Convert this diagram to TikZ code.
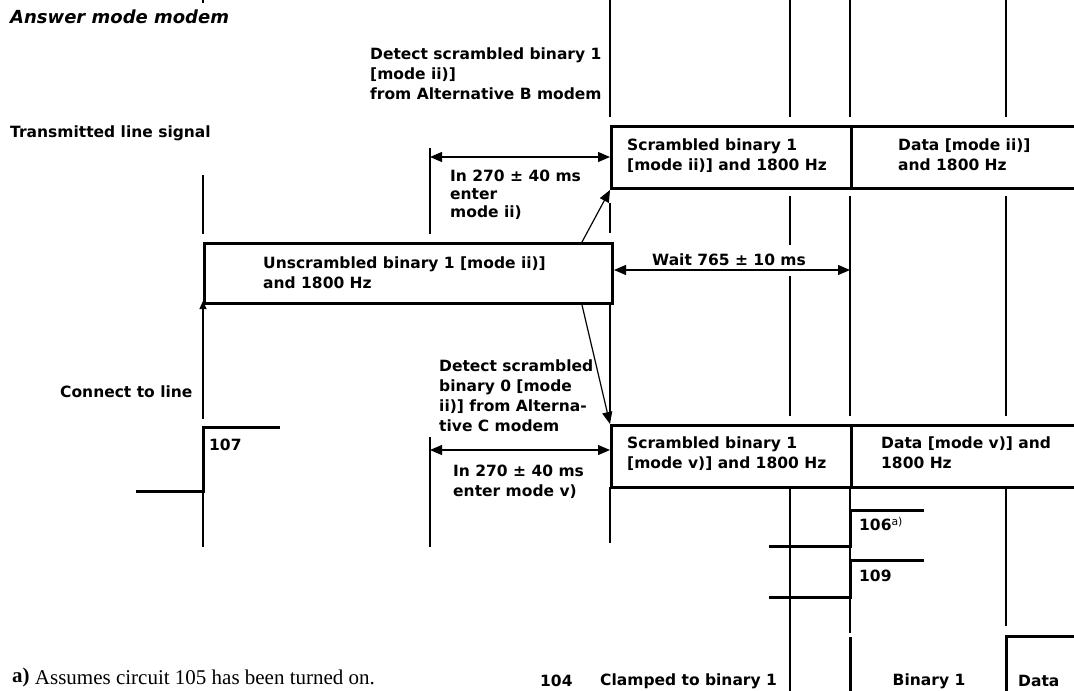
\documentclass[tikz,border=0pt]{standalone}
\usepackage{fontspec}
\setmainfont{DejaVu Sans}
\newfontfamily\notefamily{Liberation Serif}
\usetikzlibrary{arrows.meta}
\newcommand*{\boldsans}{\fontsize{15.5}{20}\selectfont\bfseries}
\newcommand*{\titlefont}{\fontsize{18}{21}\selectfont\bfseries\itshape}

\begin{document}
\begin{tikzpicture}
[
    x = 1pt, y = -1pt,
    >={Triangle[length=12pt, width=10pt]},
    every node/.style={inner sep=0pt, font=\boldsans},
    lbl/.style={anchor=north west, align=left},
    phase/.style={draw, line width=3pt, anchor=north west},
    guide/.style={line width=1.1pt},
    sig/.style={line width=3pt},
    dim/.style={<->, line width=1.2pt},
    jump/.style={->, line width=1.2pt},
]
\useasboundingbox (0,0) rectangle (1074,691);
\clip (0,0) rectangle (1074,691);

% Headings and side labels
\node[lbl, font=\titlefont] (title) at (10,10) {Answer mode modem};
\node[lbl] (txsig) at (10,126) {Transmitted line signal};
\node[anchor=west] (connect) at (60,392) {Connect to line};

% Phases of the line signal
\node[phase, minimum width=408pt, minimum height=60pt] (unscr) at (203,242) {};
\node[phase, minimum width=240pt, minimum height=62pt] (scrii) at (610,125) {};
\node[phase, minimum width=240pt, minimum height=62pt] (datii) at (850,125) {};
\node[phase, minimum width=240pt, minimum height=62pt] (scrv) at (610,424) {};
\node[phase, minimum width=240pt, minimum height=62pt] (datv) at (850,424) {};

\node[lbl] (unscrtxt) at (263,257) {Unscrambled binary 1 [mode ii)]\\and 1800 Hz};
\node[lbl] (scriitxt) at (627,139) {Scrambled binary 1\\{[mode ii)]} and 1800 Hz};
\node[lbl] (datiitxt) at (898,139) {Data [mode ii)]\\and 1800 Hz};
\node[lbl] (scrvtxt) at (627,437) {Scrambled binary 1\\{[mode v)]} and 1800 Hz};
\node[lbl] (datvtxt) at (881,437) {Data [mode v)] and\\1800 Hz};

% Detection and timing notes
\node[lbl] (detb) at (370,48) {Detect scrambled binary 1\\{[mode ii)]}\\from Alternative B modem};
\node[lbl] (detc) at (439,360) {Detect scrambled\\binary 0 [mode\\ii)] from Alterna-\\tive C modem};
\node[lbl, font=\fontsize{15.5}{18}\selectfont\bfseries] (inii) at (450,170) {In 270 ± 40 ms\\enter\\mode ii)};
\node[lbl] (inv) at (453,465) {In 270 ± 40 ms\\enter mode v)};
\node (wait) at (729,260) {Wait 765 ± 10 ms};

% Vertical guide lines
\draw[guide] (203,0) -- (203,3) (203,175) -- (203,234) (203,490) -- (203,547);
\draw[guide] (430,148) -- (430,234) (430,437) -- (430,547);
\draw[guide] (610,0) -- (610,117) (610,203) -- (610,233) (610,305) -- (610,416) (610,487) -- (610,543);
\draw[guide] (790,0) -- (790,117) (790,196) -- (790,245) (790,276) -- (790,416) (790,487) -- (790,691);
\draw[guide] (850,0) -- (850,117) (850,196) -- (850,416) (850,487) -- (850,633);
\draw[guide] (1006,0) -- (1006,117) (1006,196) -- (1006,416) (1006,487) -- (1006,626);

% Interface circuits
\draw[sig] (136,491) -- (203,491) -- (203,427) -- (280,427);
\node[anchor=west] (c107) at (209,445) {107};
\draw[sig] (769,546) -- (850,546) -- (850,510) -- (924,510);
\node[anchor=west] (c106) at (859,524) {106\textsuperscript{\normalfont a)}};
\draw[sig] (769,597) -- (850,597) -- (850,560) -- (924,560);
\node[anchor=west] (c109) at (859,576) {109};
\draw[sig] (850,637) -- (850,695);
\draw[sig] (1006,695) -- (1006,636) -- (1080,636);
\node[anchor=west] (c104) at (540,681) {104};
\node[anchor=west] (clamp) at (600,681) {Clamped to binary 1};
\node (bin1) at (929,681) {Binary 1};
\node[anchor=west] (data) at (1018,681) {Data};

% Connectors
\coordinate (on) at (203,419);
\coordinate (tii) at (430,157);
\coordinate (tv) at (430,450);
\draw[jump, >={Triangle[length=8pt, width=7pt]}] (on) -- ([yshift=4pt]unscr.south west);
\draw[jump] ([xshift=-32pt]unscr.north east) -- (scrii.south west);
\draw[jump] ([xshift=-32pt]unscr.south east) -- (scrv.north west);
\draw[dim] (tii) -- (tii -| scrii.west);
\draw[dim] (tv) -- (tv -| scrv.west);
\draw[dim] (unscr.east |- 0,270) -- (datii.west |- 0,270);

% Footnote
\node[anchor=base west, font=\notefamily\fontsize{21}{24}\selectfont] (note) at (12,684) {\raisebox{2pt}{\textbf{a)}} Assumes circuit 105 has been turned on.};
\end{tikzpicture}
\end{document}
